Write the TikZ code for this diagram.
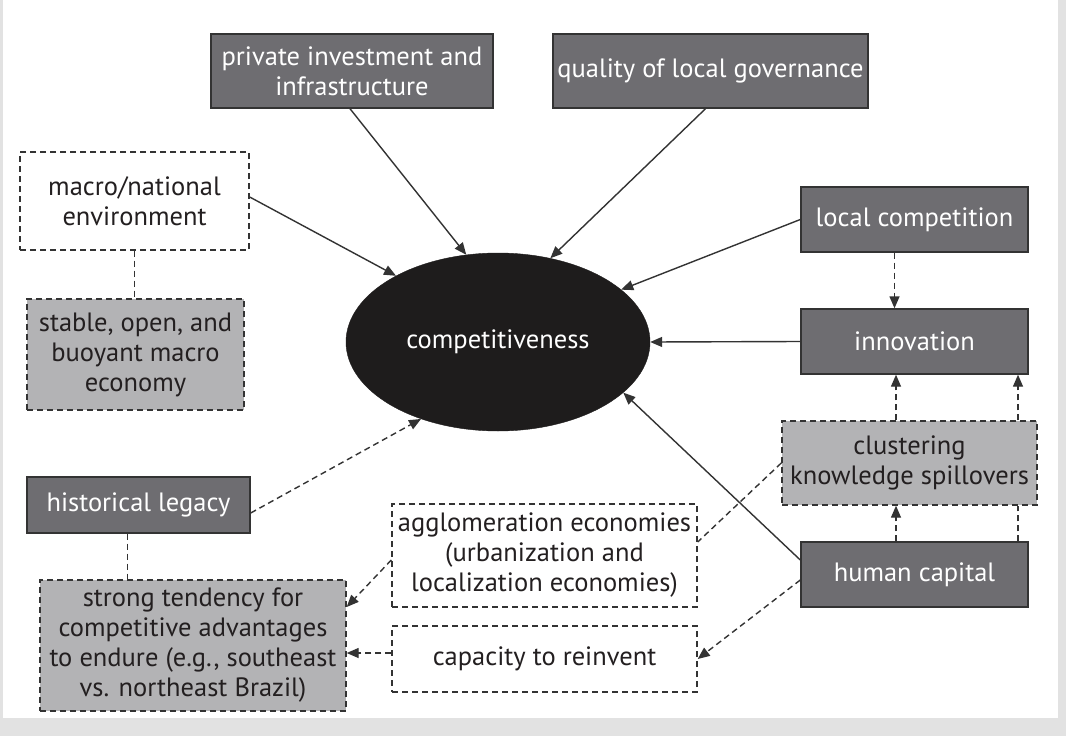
\documentclass[tikz,border=0pt]{standalone}
\usepackage{fontspec}
\setmainfont{PT Sans}
\usetikzlibrary{arrows.meta,shapes.geometric}
\definecolor{darkbox}{HTML}{6E6D71}
\definecolor{lightbox}{HTML}{B3B3B5}
\definecolor{edgec}{HTML}{333333}
\definecolor{ink}{HTML}{231F20}
\definecolor{bggray}{HTML}{E2E2E2}
\definecolor{ellfill}{HTML}{1E1C1C}
\begin{document}
\begin{tikzpicture}[x=1pt,y=-1pt,
  box/.style={rectangle, inner sep=0pt, line width=1.4pt, draw=edgec, align=center,
    font=\fontsize{26.5}{30}\selectfont},
  dark/.style={box, fill=darkbox, text=white},
  lightd/.style={box, fill=lightbox, text=ink, dash pattern=on 6pt off 4pt},
  whited/.style={box, fill=white, text=ink, dash pattern=on 6pt off 4pt},
  conn/.style={draw=edgec, line width=1.4pt, -{Triangle[length=12pt,width=10pt]}},
  dconn/.style={conn, dash pattern=on 6pt off 4pt},
  dline/.style={draw=edgec, line width=1.4pt, dash pattern=on 6pt off 4pt}]
% background frame
\fill[bggray] (0,0) rectangle (1066,736);
\fill[white] (3,0) rectangle (1058,718);
\useasboundingbox (0,0) rectangle (1066,736);

% nodes
\node[dark, minimum width=282pt, minimum height=74pt] (priv) at (352,71) {private investment and\\infrastructure};
\node[dark, minimum width=315pt, minimum height=74pt] (qual) at (710.5,71) {quality of local governance};
\node[whited, minimum width=229pt, minimum height=98pt] (macro) at (134.5,201) {macro/national\\environment};
\node[lightd, minimum width=217pt, minimum height=111pt] (stable) at (135.5,354.5) {stable, open, and\\buoyant macro\\economy};
\node[ellipse, fill=ellfill, draw=ellfill, inner sep=0pt, minimum width=304pt, minimum height=178pt,
  text=white, font=\fontsize{26.5}{30}\selectfont] (comp) at (498,342) {competitiveness};
\node[dark, minimum width=227pt, minimum height=65pt] (lc) at (914.5,219.5) {local competition};
\node[dark, minimum width=227pt, minimum height=65pt] (innov) at (914.5,341.5) {innovation};
\node[lightd, minimum width=255pt, minimum height=84pt] (clust) at (909.5,463) {clustering\\knowledge spillovers};
\node[dark, minimum width=227pt, minimum height=65pt] (hc) at (914.5,574.5) {human capital};
\node[dark, minimum width=223pt, minimum height=56pt] (hist) at (138.5,505) {historical legacy};
\node[lightd, minimum width=306pt, minimum height=131pt] (strong) at (193,645.5) {strong tendency for\\competitive advantages\\to endure (e.g., southeast\\vs. northeast Brazil)};
\node[whited, minimum width=305pt, minimum height=103pt] (agglo) at (544.5,555.5) {agglomeration economies\\(urbanization and\\localization economies)};
\node[whited, minimum width=305pt, minimum height=66pt] (cap) at (544.5,659) {capacity to reinvent};

% solid connectors into competitiveness
\draw[conn] ([xshift=-2pt]priv.south) -- (comp.110.8);
\draw[conn] ([xshift=-5pt]qual.south) -- (comp.58.1);
\draw[conn] ([yshift=4pt]macro.east) -- (comp.147.5);
\draw[conn] (lc.west) -- (comp.23.5);
\draw[conn] (innov.west) -- (comp.east);
\draw[conn] ([yshift=14.5pt]hc.west) -- (comp.-22);
\draw[dconn] ([yshift=-8pt]hist.east) -- (comp.225.4);

% dashed links
\draw[dline] (macro.south) -- (macro.south |- stable.north);
\draw[dline] ([xshift=-11pt]hist.south) -- ([xshift=-11pt]hist.south |- strong.north);
\draw[dconn] ([xshift=-20pt]lc.south) -- ([xshift=-20pt]lc.south |- innov.north);
\draw[dconn] ([xshift=-13.5pt]clust.north) -- ([xshift=-13.5pt]clust.north |- innov.south);
\draw[dconn] ([xshift=108.5pt]clust.north) -- ([xshift=108.5pt]clust.north |- innov.south);
\draw[dconn] ([xshift=-18.5pt]hc.north) -- ([xshift=-18.5pt]hc.north |- clust.south);
\draw[dline] ([xshift=103.5pt]hc.north) -- ([xshift=103.5pt]hc.north |- clust.south);
\draw[dline] (clust.west) -- ([yshift=13.5pt]agglo.east);
\draw[dconn] ([yshift=-4.5pt]agglo.west) -- ([yshift=38.5pt]strong.east);
\draw[dconn] ([yshift=6pt]cap.west) -- ([yshift=6pt]cap.west -| strong.east);
\draw[dconn] ([yshift=-5.5pt]hc.west) -- (cap.east);
\end{tikzpicture}
\end{document}
